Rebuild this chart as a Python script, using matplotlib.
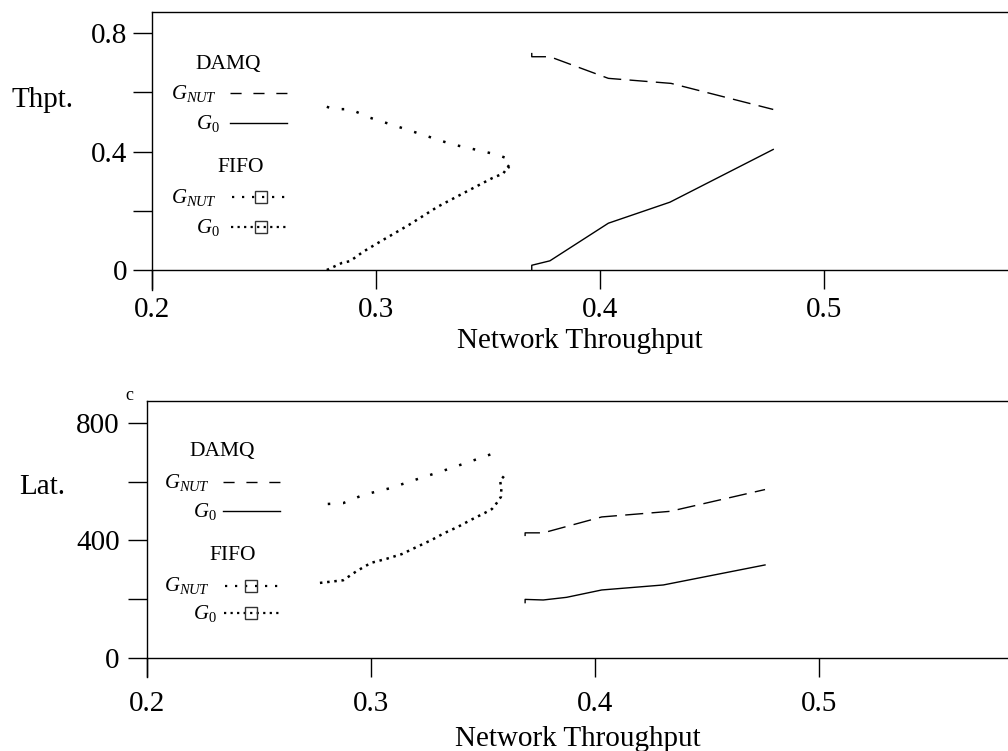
import matplotlib
matplotlib.use("Agg")
import matplotlib.pyplot as plt
from matplotlib.lines import Line2D

plt.rcParams.update({
    "font.family": "Liberation Serif",
    "mathtext.fontset": "custom",
    "mathtext.rm": "Liberation Serif",
    "mathtext.it": "Liberation Serif:italic",
    "lines.scale_dashes": False,
})

# ---------------- data ----------------
x_ticks = [0.2, 0.3, 0.4, 0.5]
x_tick_labels = ["0.2", "0.3", "0.4", "0.5"]
thpt_ticks = [0.0, 0.4, 0.8]
thpt_tick_labels = ["0", "0.4", "0.8"]
thpt_minor = [0.2, 0.6]
lat_ticks = [0, 400, 800]
lat_tick_labels = ["0", "400", "800"]
lat_minor = [200, 600]

# DAMQ, throughput panel
damq_nut_x_t = [0.3694, 0.3694, 0.3775, 0.4036, 0.4316, 0.4772]
damq_nut_thpt = [0.733, 0.720, 0.720, 0.647, 0.630, 0.542]
damq_g0_x_t = [0.3694, 0.3694, 0.3775, 0.4036, 0.4311, 0.4772]
damq_g0_thpt = [0.002, 0.016, 0.031, 0.158, 0.229, 0.407]

# FIFO, throughput panel
fifo_nut_x_t = [0.2779, 0.2811, 0.2883, 0.2972, 0.3088, 0.3210, 0.3335,
                0.3469, 0.3545, 0.3589, 0.3600, 0.3588]
fifo_nut_thpt = [0.551, 0.543, 0.543, 0.514, 0.486, 0.456, 0.425,
                 0.402, 0.388, 0.375, 0.354, 0.344]
fifo_g0_x_t = [0.2779, 0.2847, 0.2883, 0.2942, 0.3029, 0.3145, 0.3275,
               0.3393, 0.3517, 0.3567, 0.3588, 0.3600]
fifo_g0_thpt = [0.000, 0.024, 0.030, 0.062, 0.101, 0.152, 0.214,
                0.261, 0.310, 0.326, 0.349, 0.361]

# DAMQ, latency panel
damq_nut_x_l = [0.3688, 0.3688, 0.3769, 0.4030, 0.4335, 0.4759]
damq_nut_lat = [415, 426, 426, 480, 499, 573]
damq_g0_x_l = [0.3688, 0.3688, 0.3769, 0.3873, 0.4030, 0.4305, 0.4759]
damq_g0_lat = [189, 200, 198, 207, 232, 249, 317]

# FIFO, latency panel
fifo_nut_x_l = [0.2807, 0.2876, 0.2966, 0.3082, 0.3205, 0.3327, 0.3461,
                0.3540, 0.3582]
fifo_nut_lat = [524, 527, 555, 577, 608, 638, 673, 694, 704]
fifo_g0_x_l = [0.2772, 0.2876, 0.2936, 0.3000, 0.3070, 0.3138, 0.3204,
               0.3271, 0.3327, 0.3387, 0.3446, 0.3509, 0.3540, 0.3561,
               0.3580, 0.3582, 0.3576, 0.3591, 0.3604]
fifo_g0_lat = [256, 265, 296, 324, 338, 354, 378, 402, 425, 446, 470,
               494, 507, 527, 548, 577, 604, 616, 629]

# ---------------- styles ----------------
DASHED = dict(color="black", lw=1.0, linestyle=(0, (13, 6)))
SOLID = dict(color="black", lw=1.0, linestyle="-")
SPARSE = dict(color="black", lw=1.8, linestyle=(0, (1.8, 9.2)))
DENSE = dict(color="black", lw=1.8, linestyle=(0, (1.8, 3.4)))

W, H = 1008, 751
fig = plt.figure(figsize=(W / 100, H / 100), dpi=100)
FS = 21


def fx(px):
    return px / W


def fy(py):
    return 1 - py / H


def make_axes(left, top, bottom, xmax, ylim, yt, ytl, ymin, ypad, xpad):
    ax = fig.add_axes([fx(left), fy(bottom), 1 - fx(left), (bottom - top) / H])
    ax.set_xlim(0.2, xmax)
    ax.set_ylim(*ylim)
    ax.spines["right"].set_visible(False)
    ax.spines["bottom"].set_position(("data", 0))
    for s in ax.spines.values():
        s.set_linewidth(1.0)
    ax.set_xticks(x_ticks)
    ax.set_xticklabels(x_tick_labels)
    ax.set_yticks(yt)
    ax.set_yticklabels(ytl)
    ax.set_yticks(ymin, minor=True)
    ax.tick_params(axis="x", direction="out", length=13.7, width=1.0,
                   pad=xpad, labelsize=FS)
    ax.tick_params(axis="y", which="both", direction="out", length=13.7,
                   width=1.0, pad=ypad, labelsize=FS)
    ax.set_xlabel("Network Throughput", fontsize=FS)
    return ax


# top panel: throughput
ax1 = make_axes(152.3, 12, 290, 0.2 + (W - 152.3) / 2240,
                (-0.0675, 0.871), thpt_ticks, thpt_tick_labels, thpt_minor,
                ypad=4, xpad=6)
ax1.xaxis.set_label_coords(0.5, (290 - 328) / 278)
ax1.plot(damq_nut_x_t, damq_nut_thpt, **DASHED)
ax1.plot(damq_g0_x_t, damq_g0_thpt, **SOLID)
ax1.plot(fifo_nut_x_t, fifo_nut_thpt, **SPARSE)
ax1.plot(fifo_g0_x_t, fifo_g0_thpt, **DENSE)

# bottom panel: latency
ax2 = make_axes(147, 401, 676.7, 0.2 + (W - 147) / 2240,
                (-62.5, 873.7), lat_ticks, lat_tick_labels, lat_minor,
                ypad=6, xpad=10)
ax2.xaxis.set_label_coords(0.5, (676.7 - 726) / 275.7)
ax2.plot(damq_nut_x_l, damq_nut_lat, **DASHED)
ax2.plot(damq_g0_x_l, damq_g0_lat, **SOLID)
ax2.plot(fifo_nut_x_l, fifo_nut_lat, **SPARSE)
ax2.plot(fifo_g0_x_l, fifo_g0_lat, **DENSE)

fig.text(fx(43), fy(100), "Thpt.", fontsize=FS, ha="center", va="center")
fig.text(fx(42), fy(487), "Lat.", fontsize=FS, ha="center", va="center")
fig.text(fx(129), fy(396), "c", fontsize=13, ha="center", va="center")


def key_line(x0, x1, y, style, square_x=None):
    fig.add_artist(Line2D([fx(x0), fx(x1)], [fy(y), fy(y)],
                          transform=fig.transFigure, **style))
    if square_x is not None:
        fig.add_artist(Line2D([fx(square_x)], [fy(y)], transform=fig.transFigure,
                              marker="s", markersize=8.5, mfc="none",
                              mec="#333333", mew=1.0, linestyle="none"))


def key_block(x_line0, x_line1, ys, head_x, label_right, sq_x):
    y_damq, y_nut, y_g0, y_fifo, y_fnut, y_fg0 = ys
    fs_head, fs_lab = 15.5, 15
    fig.text(fx(head_x[0]), fy(y_damq), "DAMQ", fontsize=fs_head,
             ha="center", va="center")
    fig.text(fx(label_right[0]), fy(y_nut), r"$G_{NUT}$", fontsize=fs_lab,
             ha="right", va="center")
    key_line(x_line0, x_line1, y_nut, dict(color="black", lw=1.0,
                                           linestyle=(0, (8, 8.5))))
    fig.text(fx(label_right[1]), fy(y_g0), r"$G_0$", fontsize=fs_lab,
             ha="right", va="center")
    key_line(x_line0, x_line1, y_g0, SOLID)
    fig.text(fx(head_x[1]), fy(y_fifo), "FIFO", fontsize=fs_head,
             ha="center", va="center")
    fig.text(fx(label_right[0]), fy(y_fnut), r"$G_{NUT}$", fontsize=fs_lab,
             ha="right", va="center")
    key_line(x_line0 + 2, x_line1, y_fnut,
             dict(color="black", lw=1.6, linestyle=(0, (1.6, 5.6))), sq_x)
    fig.text(fx(label_right[1]), fy(y_fg0), r"$G_0$", fontsize=fs_lab,
             ha="right", va="center")
    key_line(x_line0 + 1, x_line1, y_fg0,
             dict(color="black", lw=1.6, linestyle=(0, (1.6, 3.1))), sq_x)


key_block(230, 287, (64, 93, 123, 167, 197, 227), (228, 240.5),
          (217, 220), 261)
key_block(223, 280, (452, 482, 511, 555, 586, 613), (222, 233),
          (210, 217), 251)

fig.savefig("out.png", dpi=100)
